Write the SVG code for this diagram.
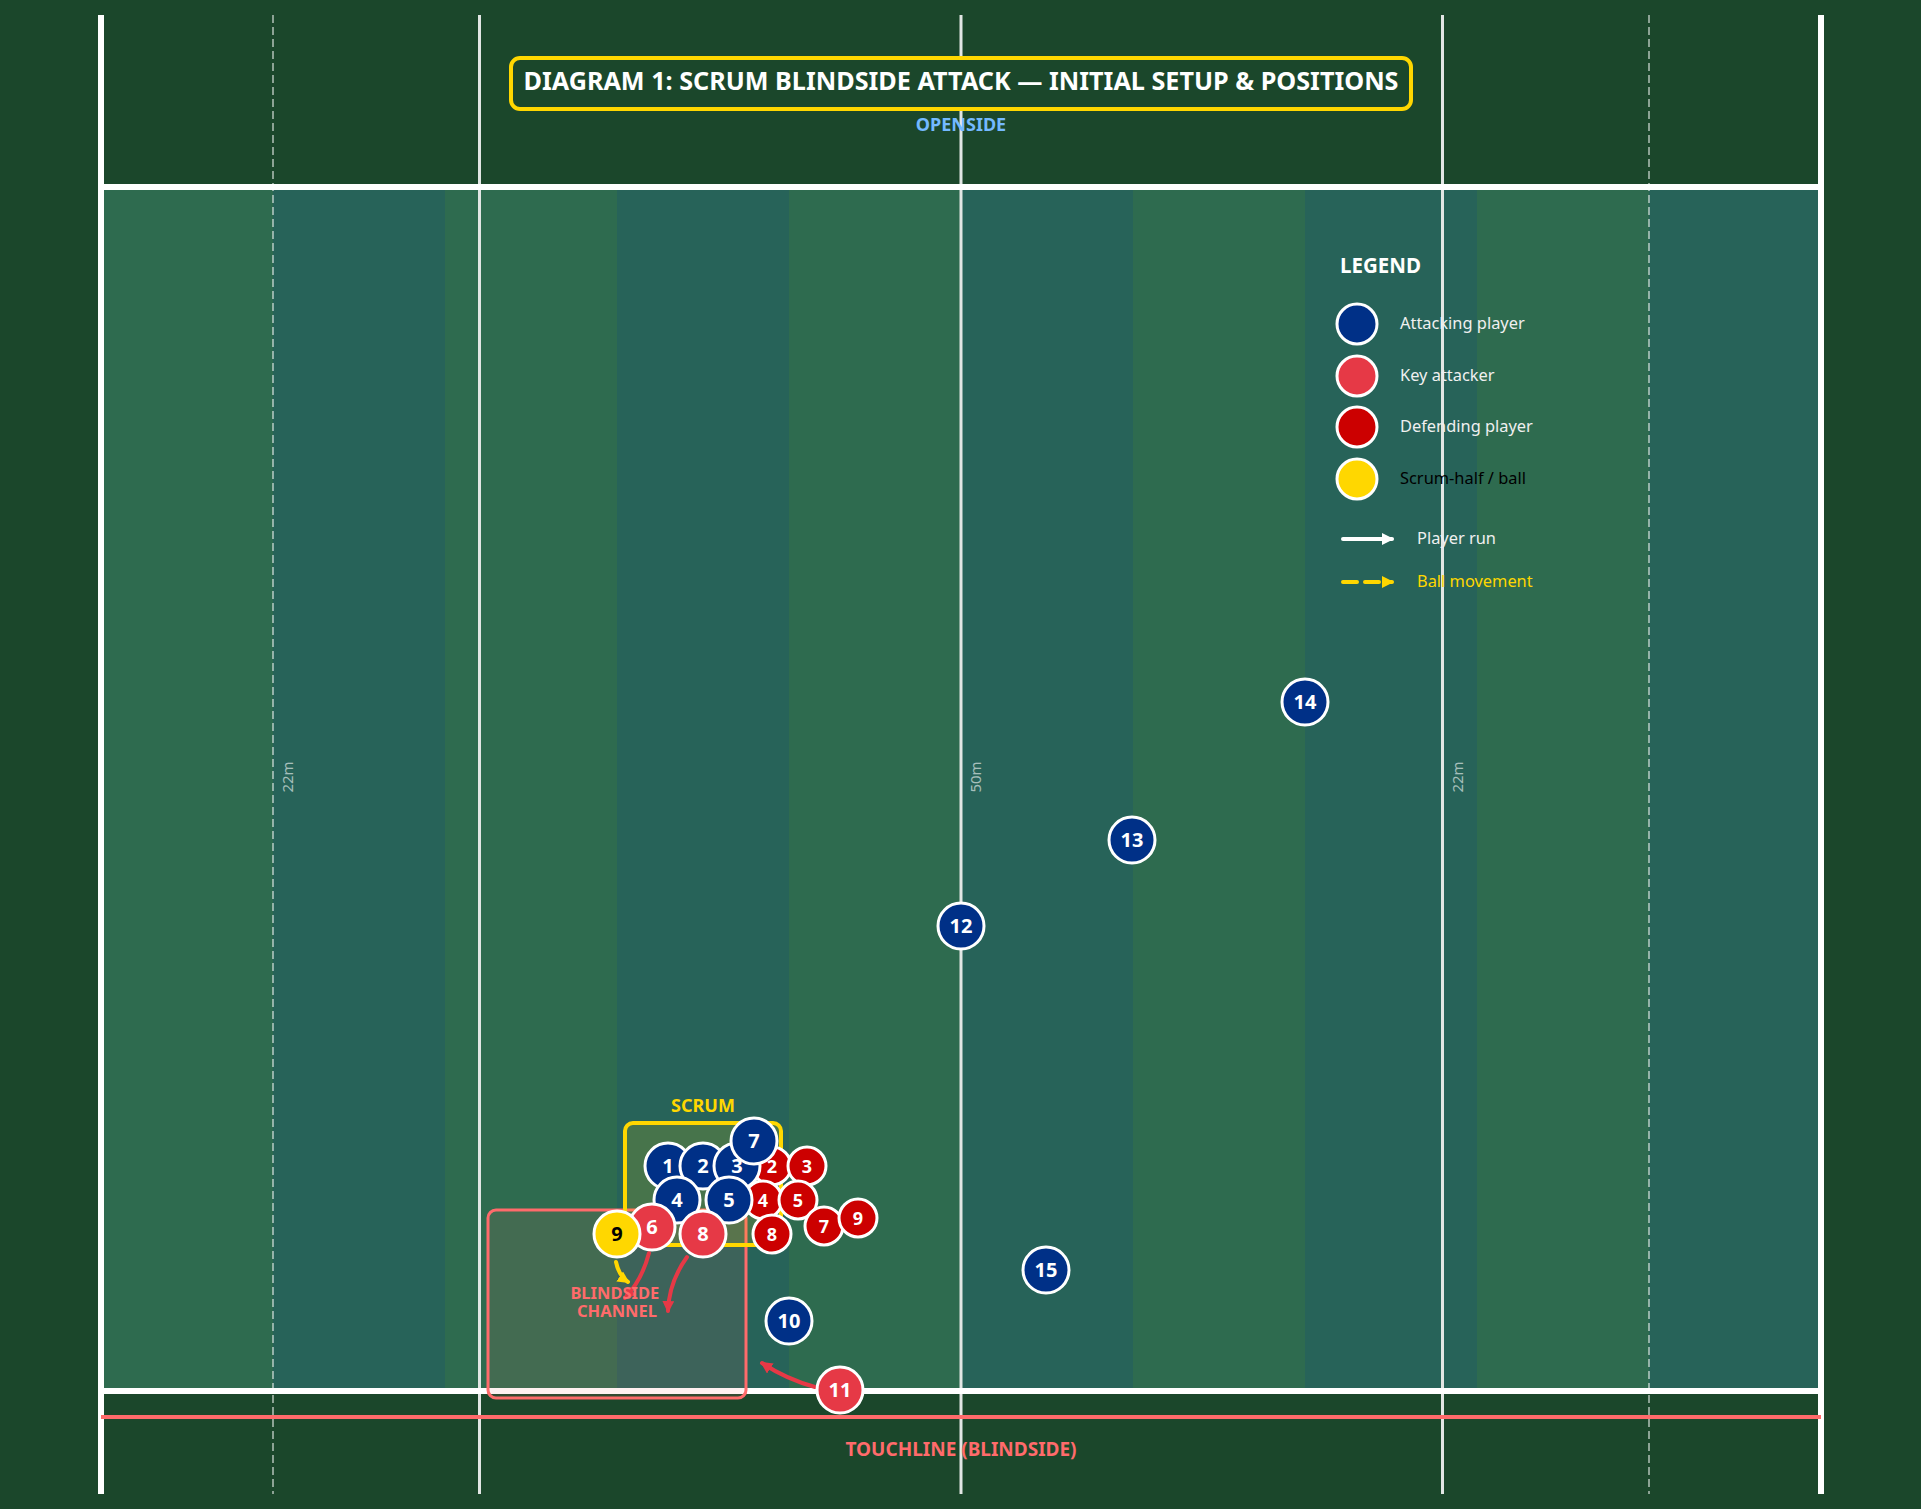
<svg xmlns="http://www.w3.org/2000/svg" width="1921" height="1509" viewBox="0 0 1921 1509">
  <defs>
    <style>
      text { font-family: "Noto Sans", "Open Sans", "DejaVu Sans", sans-serif; }
      .stA { fill: #2e6b4f; }
      .stB { fill: #276359; }
      .side { stroke: #ffffff; stroke-width: 6; }
      .solid { stroke: #e2e6e4; stroke-width: 3; }
      .dash { stroke: #ffffff; stroke-opacity: 0.5; stroke-width: 2; stroke-dasharray: 8 4; }
      .mlabel { fill: #ffffff; fill-opacity: 0.6; font-size: 15px; text-anchor: middle; }
      .att { fill: #003087; stroke: #ffffff; stroke-width: 3; }
      .key { fill: #e63946; stroke: #ffffff; stroke-width: 3; }
      .def { fill: #cc0000; stroke: #ffffff; stroke-width: 3; }
      .sh { fill: #ffd700; stroke: #ffffff; stroke-width: 3; }
      .num { fill: #ffffff; font-weight: bold; font-size: 20px; text-anchor: middle; }
      .dnum { fill: #ffffff; font-weight: bold; font-size: 18px; text-anchor: middle; }
      .lg { fill: #f0f0f0; font-size: 16.4px; }
      .run { fill: none; stroke: #e63946; stroke-width: 4; stroke-linecap: round; }
      .ball { fill: none; stroke: #ffd700; stroke-width: 4; stroke-linecap: round; }
    </style>
    <marker id="ahRed" markerUnits="userSpaceOnUse" markerWidth="14" markerHeight="14" refX="10" refY="6" orient="auto">
      <path d="M0,0 L12,6 L0,12 Z" fill="#e63946"/>
    </marker>
    <marker id="ahYel" markerUnits="userSpaceOnUse" markerWidth="14" markerHeight="14" refX="10" refY="6" orient="auto">
      <path d="M0,0 L12,6 L0,12 Z" fill="#ffd700"/>
    </marker>
    <marker id="ahWht" markerUnits="userSpaceOnUse" markerWidth="14" markerHeight="14" refX="10" refY="6" orient="auto">
      <path d="M0,0 L12,6 L0,12 Z" fill="#ffffff"/>
    </marker>
  </defs>

  <!-- background -->
  <rect x="0" y="0" width="1921" height="1509" fill="#1b472b"/>

  <!-- pitch stripes -->
  <g id="pitch">
    <rect class="stA" x="101" y="187" width="172" height="1204"/>
    <rect class="stB" x="273" y="187" width="172" height="1204"/>
    <rect class="stA" x="445" y="187" width="172" height="1204"/>
    <rect class="stB" x="617" y="187" width="172" height="1204"/>
    <rect class="stA" x="789" y="187" width="172" height="1204"/>
    <rect class="stB" x="961" y="187" width="172" height="1204"/>
    <rect class="stA" x="1133" y="187" width="172" height="1204"/>
    <rect class="stB" x="1305" y="187" width="172" height="1204"/>
    <rect class="stA" x="1477" y="187" width="172" height="1204"/>
    <rect class="stB" x="1649" y="187" width="172" height="1204"/>
  </g>

  <!-- field markings -->
  <g id="markings">
    <line class="dash" x1="273" y1="15" x2="273" y2="1494"/>
    <line class="dash" x1="1649" y1="15" x2="1649" y2="1494"/>
    <line class="solid" x1="479.5" y1="15" x2="479.5" y2="1494"/>
    <line class="solid" x1="961" y1="15" x2="961" y2="1494"/>
    <line class="solid" x1="1442.5" y1="15" x2="1442.5" y2="1494"/>
    <line class="side" x1="101" y1="187" x2="1821" y2="187"/>
    <line class="side" x1="101" y1="1391" x2="1821" y2="1391"/>
    <line class="side" x1="101" y1="15" x2="101" y2="1494"/>
    <line class="side" x1="1821" y1="15" x2="1821" y2="1494"/>
    <line x1="101" y1="1417" x2="1821" y2="1417" stroke="#ff6b6b" stroke-width="4"/>
    <text class="mlabel" transform="translate(293,777) rotate(-90)">22m</text>
    <text class="mlabel" transform="translate(981,777) rotate(-90)">50m</text>
    <text class="mlabel" transform="translate(1463,777) rotate(-90)">22m</text>
  </g>

  <!-- title -->
  <g id="title">
    <rect x="511" y="58" width="900" height="51" rx="9" fill="#1b472b" stroke="#ffd700" stroke-width="4"/>
    <text x="961" y="90" fill="#ffffff" font-size="25.2" font-weight="bold" text-anchor="middle">DIAGRAM 1: SCRUM BLINDSIDE ATTACK — INITIAL SETUP &amp; POSITIONS</text>
  </g>
  <text id="openside" x="961" y="131" fill="#74b9ff" font-size="18" font-weight="bold" text-anchor="middle">OPENSIDE</text>
  <text id="touchline" x="961" y="1456" fill="#ff6b6b" font-size="19" font-weight="bold" text-anchor="middle">TOUCHLINE (BLINDSIDE)</text>

  <!-- zones -->
  <g id="blindside-channel">
    <rect x="488" y="1210" width="258" height="188" rx="8" fill="#ff6b6b" fill-opacity="0.1" stroke="#ff6b6b" stroke-width="3"/>
  </g>
  <g id="scrum-zone">
    <rect x="625" y="1123" width="156" height="122" rx="8" fill="#ffd700" fill-opacity="0.15" stroke="#ffd700" stroke-width="4"/>
    <text x="703" y="1112" fill="#ffd700" font-size="18" font-weight="bold" text-anchor="middle">SCRUM</text>
  </g>

  <!-- connectors -->
  <g id="connectors">
    <path class="ball" d="M616,1262 Q619,1276 628,1282" marker-end="url(#ahYel)"/>
    <path class="run" d="M649,1253 Q642,1280 625,1298" marker-end="url(#ahRed)"/>
    <path class="run" d="M687,1257 Q669,1282 668,1311" marker-end="url(#ahRed)"/>
    <path class="run" d="M815,1387 Q786,1379 762,1363" marker-end="url(#ahRed)"/>
  </g>

  <text id="channel-label" fill="#ff6b6b" font-size="16.5" font-weight="bold" text-anchor="middle">
    <tspan x="617" y="1299">BLINDSIDE</tspan>
    <tspan x="617" y="1317">CHANNEL</tspan>
  </text>

  <!-- defenders -->
  <g id="def-2"><circle class="def" cx="772" cy="1166" r="19"/><text class="dnum" x="772" y="1172.5">2</text></g>
  <g id="def-3"><circle class="def" cx="807" cy="1166" r="19"/><text class="dnum" x="807" y="1172.5">3</text></g>
  <g id="def-4"><circle class="def" cx="763" cy="1200" r="19"/><text class="dnum" x="763" y="1206.5">4</text></g>
  <g id="def-5"><circle class="def" cx="798" cy="1200" r="19"/><text class="dnum" x="798" y="1206.5">5</text></g>
  <g id="def-8"><circle class="def" cx="772" cy="1234" r="19"/><text class="dnum" x="772" y="1240.5">8</text></g>
  <g id="def-7"><circle class="def" cx="824" cy="1226" r="19"/><text class="dnum" x="824" y="1232.5">7</text></g>
  <g id="def-9"><circle class="def" cx="858" cy="1218" r="19"/><text class="dnum" x="858" y="1224.5">9</text></g>

  <!-- attackers -->
  <g id="att-1"><circle class="att" cx="668" cy="1166" r="23"/><text class="num" x="668" y="1173">1</text></g>
  <g id="att-2"><circle class="att" cx="703" cy="1166" r="23"/><text class="num" x="703" y="1173">2</text></g>
  <g id="att-3"><circle class="att" cx="737" cy="1166" r="23"/><text class="num" x="737" y="1173">3</text></g>
  <g id="att-4"><circle class="att" cx="677" cy="1200" r="23"/><text class="num" x="677" y="1207">4</text></g>
  <g id="att-5"><circle class="att" cx="729" cy="1200" r="23"/><text class="num" x="729" y="1207">5</text></g>
  <g id="att-6"><circle class="key" cx="652" cy="1227" r="23"/><text class="num" x="652" y="1234">6</text></g>
  <g id="att-7"><circle class="att" cx="754" cy="1141" r="23"/><text class="num" x="754" y="1148">7</text></g>
  <g id="att-8"><circle class="key" cx="703" cy="1234" r="23"/><text class="num" x="703" y="1241">8</text></g>
  <g id="att-9"><circle class="sh" cx="617" cy="1234" r="23"/><text class="num" x="617" y="1241" style="fill:#000000">9</text></g>
  <g id="att-10"><circle class="att" cx="789" cy="1321" r="23"/><text class="num" x="789" y="1328">10</text></g>
  <g id="att-11"><circle class="key" cx="840" cy="1390" r="23"/><text class="num" x="840" y="1397">11</text></g>
  <g id="att-12"><circle class="att" cx="961" cy="926" r="23"/><text class="num" x="961" y="933">12</text></g>
  <g id="att-13"><circle class="att" cx="1132" cy="840" r="23"/><text class="num" x="1132" y="847">13</text></g>
  <g id="att-14"><circle class="att" cx="1305" cy="702" r="23"/><text class="num" x="1305" y="709">14</text></g>
  <g id="att-15"><circle class="att" cx="1046" cy="1270" r="23"/><text class="num" x="1046" y="1277">15</text></g>

  <!-- legend -->
  <g id="legend">
    <text x="1340" y="273" fill="#ffffff" font-size="20.5" font-weight="bold">LEGEND</text>
    <circle class="att" cx="1357" cy="324" r="20"/>
    <text class="lg" x="1400" y="329">Attacking player</text>
    <circle class="key" cx="1357" cy="376" r="20"/>
    <text class="lg" x="1400" y="381">Key attacker</text>
    <circle class="def" cx="1357" cy="427" r="20"/>
    <text class="lg" x="1400" y="432">Defending player</text>
    <circle class="sh" cx="1357" cy="479" r="20"/>
    <text class="lg" x="1400" y="484" style="fill:#000000">Scrum-half / ball</text>
    <line x1="1343" y1="539" x2="1392" y2="539" stroke="#ffffff" stroke-width="4" stroke-linecap="round" marker-end="url(#ahWht)"/>
    <text class="lg" x="1417" y="544">Player run</text>
    <line x1="1343" y1="582" x2="1392" y2="582" stroke="#ffd700" stroke-width="4" stroke-linecap="round" stroke-dasharray="14 8" marker-end="url(#ahYel)"/>
    <text class="lg" x="1417" y="587" style="fill:#ffd700">Ball movement</text>
  </g>
</svg>
